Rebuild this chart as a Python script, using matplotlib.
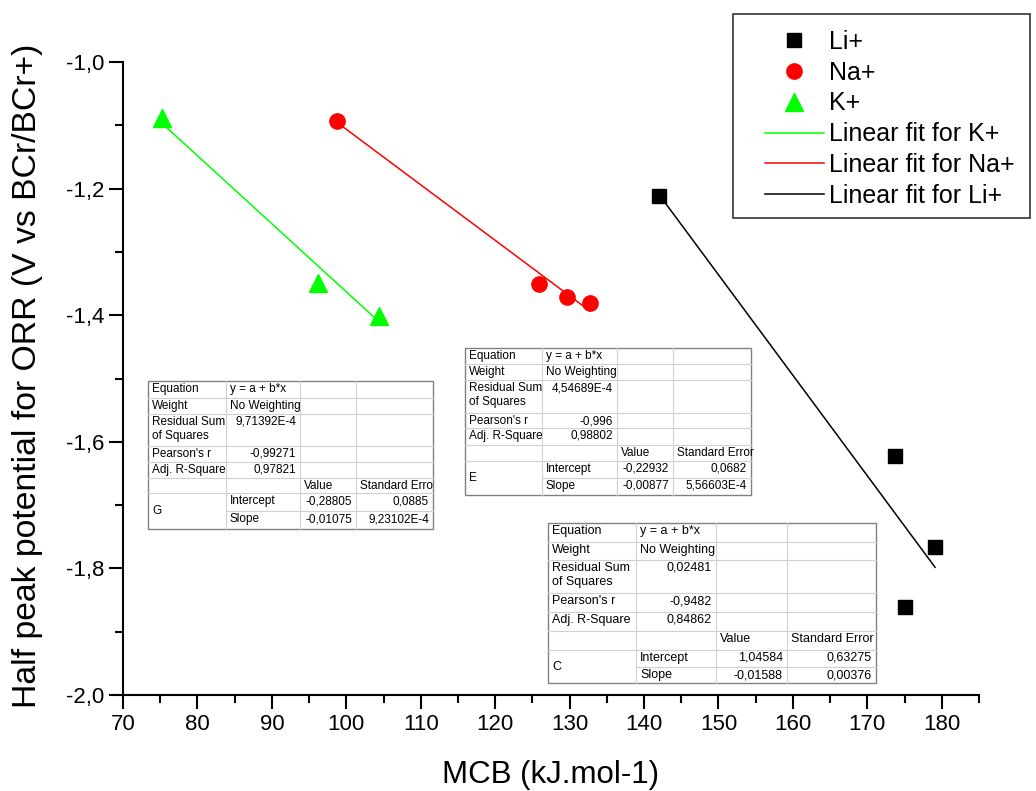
import numpy as np
import matplotlib
matplotlib.use("Agg")
import matplotlib.pyplot as plt
from matplotlib.ticker import MultipleLocator, FuncFormatter
from matplotlib.patches import Rectangle
from matplotlib.lines import Line2D

plt.rcParams['font.family'] = ['Liberation Sans', 'DejaVu Sans']

# data
li_x = [142.0, 173.7, 179.1, 175.1]
li_y = [-1.212, -1.623, -1.766, -1.861]
na_x = [98.7, 125.9, 129.7, 132.7]
na_y = [-1.093, -1.350, -1.371, -1.381]
k_x = [75.3, 96.2, 104.4]
k_y = [-1.089, -1.349, -1.401]

# fit parameters (intercept, slope) from the tables
k_fit = (-0.28805, -0.01075)
na_fit = (-0.22932, -0.00877)
li_fit = (1.04584, -0.01588)

table_k = [
    ["Equation", "y = a + b*x", "", ""],
    ["Weight", "No Weighting", "", ""],
    ["Residual Sum\nof Squares", "9,71392E-4", "", ""],
    ["Pearson's r", "-0,99271", "", ""],
    ["Adj. R-Square", "0,97821", "", ""],
    ["", "", "Value", "Standard Erro"],
    ["G", "Intercept", "-0,28805", "0,0885"],
    ["", "Slope", "-0,01075", "9,23102E-4"],
]
table_na = [
    ["Equation", "y = a + b*x", "", ""],
    ["Weight", "No Weighting", "", ""],
    ["Residual Sum\nof Squares", "4,54689E-4", "", ""],
    ["Pearson's r", "-0,996", "", ""],
    ["Adj. R-Square", "0,98802", "", ""],
    ["", "", "Value", "Standard Error"],
    ["E", "Intercept", "-0,22932", "0,0682"],
    ["", "Slope", "-0,00877", "5,56603E-4"],
]
table_li = [
    ["Equation", "y = a + b*x", "", ""],
    ["Weight", "No Weighting", "", ""],
    ["Residual Sum\nof Squares", "0,02481", "", ""],
    ["Pearson's r", "-0,9482", "", ""],
    ["Adj. R-Square", "0,84862", "", ""],
    ["", "", "Value", "Standard Error"],
    ["C", "Intercept", "1,04584", "0,63275"],
    ["", "Slope", "-0,01588", "0,00376"],
]

W, H = 1036, 791
fig = plt.figure(figsize=(W / 100, H / 100), dpi=100)
ax = fig.add_axes([123 / W, 1 - 695 / H, (979 - 123) / W, (695 - 62) / H])

ax.plot(li_x, li_y, 's', color='black', ms=10, ls='none', label='Li+', zorder=3)
ax.plot(na_x, na_y, 'o', color='#ff0000', ms=11, ls='none', label='Na+', zorder=3)
ax.plot(k_x, k_y, '^', color='#00ff00', ms=13, ls='none', label='K+', zorder=3)

for xs, (a, b), c, lab in [(k_x, k_fit, '#00ff00', 'Linear fit for K+'),
                           (na_x, na_fit, '#ff0000', 'Linear fit for Na+'),
                           (li_x, li_fit, 'black', 'Linear fit for Li+')]:
    xx = np.array([min(xs), max(xs)])
    ax.plot(xx, a + b * xx, color=c, lw=1.1, label=lab, zorder=2)

ax.set_xlim(70, 185)
ax.set_ylim(-2.0, -1.0)
ax.xaxis.set_major_locator(MultipleLocator(10))
ax.xaxis.set_minor_locator(MultipleLocator(5))
ax.yaxis.set_major_locator(MultipleLocator(0.2))
ax.yaxis.set_minor_locator(MultipleLocator(0.1))
ax.yaxis.set_major_formatter(FuncFormatter(lambda v, p: ("%.1f" % v).replace('.', ',')))
ax.xaxis.set_major_formatter(FuncFormatter(lambda v, p: "%d" % v))
ax.tick_params(which='major', direction='out', length=10, width=1.5, labelsize=16)
ax.tick_params(which='minor', direction='out', length=6, width=1.5)
for s in ['top', 'right']:
    ax.spines[s].set_visible(False)
for s in ['left', 'bottom']:
    ax.spines[s].set_linewidth(1.5)

fig.text(551 / W, 1 - 775 / H, "MCB (kJ.mol-1)", fontsize=22.5, ha='center', va='center')
fig.text(28 / W, 1 - 376 / H, "Half peak potential for ORR (V vs BCr/BCr+)", fontsize=24.3,
         rotation=90, ha='center', va='center')

# legend without its own frame, box drawn separately
leg = fig.legend(loc='upper left', bbox_to_anchor=(765 / W, 1 - 30 / H), fontsize=18,
                 frameon=False, handlelength=2.35, labelspacing=0.27, borderaxespad=0,
                 borderpad=0, handletextpad=0.2)
fig.patches.append(Rectangle((733 / W, 1 - 218 / H), (1030 - 733) / W, (218 - 14) / H,
                             transform=fig.transFigure, facecolor='none', edgecolor='#333333',
                             lw=1.2, zorder=4))


def draw_table(x0, y0, cols, rows_h, cells, fs=8.5):
    tr = fig.transFigure
    def X(px):
        return px / W
    def Y(py):
        return 1 - py / H
    xe = np.concatenate([[x0], x0 + np.cumsum(cols)])
    ye = np.concatenate([[y0], y0 + np.cumsum(rows_h)])
    fig.patches.append(Rectangle((X(xe[0]), Y(ye[-1])), X(xe[-1]) - X(xe[0]), Y(ye[0]) - Y(ye[-1]),
                                 transform=tr, facecolor='white', edgecolor='#808080', lw=1.0, zorder=5))
    for i in range(1, len(ye) - 1):
        start = xe[1] if i == len(ye) - 2 else xe[0]
        fig.lines.append(Line2D([X(start), X(xe[-1])], [Y(ye[i]), Y(ye[i])], transform=tr,
                                color='#d0d0d0', lw=0.8, zorder=6))
    for j in range(1, len(xe) - 1):
        fig.lines.append(Line2D([X(xe[j]), X(xe[j])], [Y(ye[0]), Y(ye[-1])], transform=tr,
                                color='#d0d0d0', lw=0.8, zorder=6))
    for i, row in enumerate(cells):
        for j, s in enumerate(row):
            if not s:
                continue
            if i == len(cells) - 2 and j == 0:
                fig.text(X(xe[0] + 4), Y((ye[i] + ye[i + 2]) / 2), s, fontsize=fs, ha='left',
                         va='center', zorder=7)
                continue
            num = s[0] in '-0123456789'
            if num:
                fig.text(X(xe[j + 1] - 4), Y(ye[i] + 2), s, fontsize=fs, ha='right', va='top', zorder=7)
            else:
                fig.text(X(xe[j] + 4), Y(ye[i] + 2), s, fontsize=fs, ha='left', va='top',
                         linespacing=1.25, zorder=7)


draw_table(148, 381, [78, 74, 56, 77], [17, 16, 32, 16, 16, 15, 18, 18], table_k)
draw_table(465, 348, [77, 75, 56, 78], [16, 16, 33, 15, 17, 16, 17, 17], table_na)
draw_table(548, 523, [88, 80, 71, 89], [19, 18, 33, 19, 19, 19, 17, 16], table_li, fs=9)

fig.savefig("out.png", dpi=100)
